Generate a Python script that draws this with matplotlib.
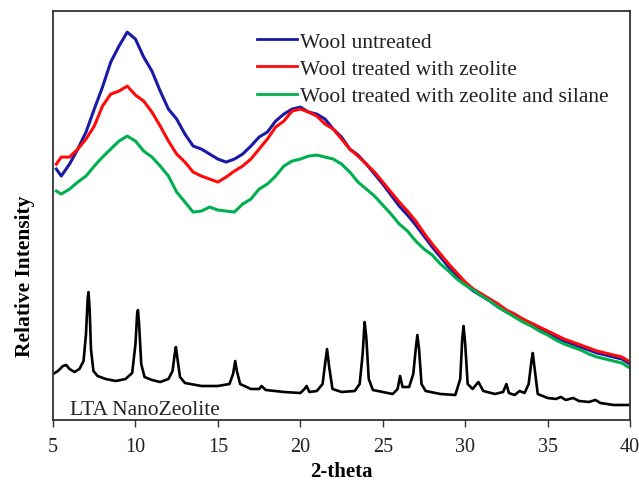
import matplotlib
matplotlib.use("Agg")
import matplotlib.pyplot as plt
import numpy as np

plt.rcParams['font.family'] = ['Liberation Serif', 'DejaVu Serif']

# 2-theta grid for the wool patterns
two_theta = [5.2] + [5.5 + 0.5 * i for i in range(70)]

wool_untreated = [251, 244, 256, 271, 288, 311, 333, 358, 374, 388, 381, 363, 349, 329, 311, 301, 286, 274,
                  271, 266, 261, 258, 261, 266, 274, 283, 288, 299, 306, 311, 313, 308, 306, 301, 291, 283,
                  271, 265, 256, 246, 236, 225, 214, 205, 195, 184, 173, 163, 153, 144, 136, 129, 124, 119,
                  113, 108, 104, 99, 95, 91, 87, 83, 79, 76, 73, 70, 67, 65, 63, 61, 56]

wool_zeolite = [256, 263, 263, 271, 281, 294, 314, 326, 329, 334, 325, 319, 308, 294, 279, 266, 258, 248,
                244, 241, 238, 243, 249, 254, 261, 271, 281, 293, 299, 309, 311, 308, 304, 296, 291, 281,
                271, 264, 256, 248, 238, 228, 218, 209, 199, 187, 176, 166, 156, 147, 138, 131, 126, 121,
                116, 110, 106, 101, 97, 93, 89, 85, 81, 78, 75, 72, 69, 67, 65, 63, 58]

wool_zeolite_silane = [229, 226, 231, 238, 244, 254, 263, 271, 279, 284, 279, 269, 263, 254, 244, 228, 218, 208,
                       209, 213, 210, 209, 208, 216, 221, 231, 236, 244, 254, 259, 261, 264, 265, 263, 261, 256,
                       248, 238, 231, 224, 215, 206, 196, 189, 179, 171, 165, 156, 149, 141, 135, 130, 124, 119,
                       113, 108, 103, 98, 94, 89, 85, 80, 76, 73, 70, 66, 63, 61, 59, 57, 52]

lta_theta = [5.0, 5.3, 5.6, 5.8, 6.0, 6.3, 6.6, 6.85, 7.0, 7.1, 7.15, 7.22, 7.3, 7.45, 7.7, 8.2, 8.8, 9.4,
             9.8, 10.0, 10.1, 10.15, 10.22, 10.35, 10.55, 11.0, 11.5, 12.0, 12.25, 12.38, 12.45, 12.55, 12.7,
             13.0, 14.0, 15.0, 15.7, 15.92, 16.05, 16.15, 16.35, 17.0, 17.5, 17.65, 17.9, 19.0, 20.0, 20.25,
             20.38, 20.55, 21.0, 21.35, 21.5, 21.62, 21.75, 21.95, 22.5, 23.3, 23.6, 23.78, 23.9, 24.0, 24.15,
             24.4, 25.0, 25.6, 25.9, 26.05, 26.2, 26.6, 26.85, 27.0, 27.1, 27.2, 27.35, 27.6, 28.5, 29.4, 29.7,
             29.82, 29.9, 30.0, 30.15, 30.45, 30.8, 31.1, 31.8, 32.3, 32.5, 32.65, 33.0, 33.3, 33.6, 33.85,
             34.02, 34.1, 34.2, 34.4, 35.0, 35.5, 35.8, 36.1, 36.55, 36.9, 37.5, 37.9, 38.2, 39.0, 39.5, 40.0]
lta_intensity = [46, 49, 54, 55, 51, 48, 51, 59, 86, 121, 128, 111, 71, 49, 44, 41, 39, 41,
                 47, 76, 106, 110, 96, 56, 43, 40, 38, 41, 49, 66, 73, 61, 43,
                 37, 34, 34, 36, 46, 59, 49, 36, 31, 31, 34, 30, 28, 27, 31,
                 34, 28, 29, 36, 56, 71, 53, 31, 28, 29, 36, 66, 98, 83, 41,
                 30, 28, 26, 31, 44, 33, 33, 46, 71, 85, 71, 36, 29, 26, 25, 41,
                 81, 94, 76, 36, 31, 38, 29, 26, 28, 36, 27, 25, 29, 27, 36,
                 59, 67, 53, 26, 22, 21, 23, 20, 22, 19, 18, 20, 17, 15, 15, 15]

labels = ["Wool untreated", "Wool treated with zeolite", "Wool treated with zeolite and silane"]
colors = ["#1a1aa8", "#ff0a0a", "#00b04f"]
x_ticks = [5, 10, 15, 20, 25, 30, 35, 40]

fig = plt.figure(figsize=(6.39, 4.85), dpi=100)
ax = fig.add_axes([0.083, 0.132, 0.903, 0.843])

for ys, lab, c in zip([wool_untreated, wool_zeolite, wool_zeolite_silane], labels, colors):
    ax.plot(two_theta, ys, color=c, lw=2.2, label=lab)
ax.plot(lta_theta, lta_intensity, color="black", lw=1.9)

ax.set_xlim(5, 40)
ax.set_ylim(0, 409)
ax.set_xticks(x_ticks)
ax.set_yticks([])
ax.tick_params(axis='x', direction='out', length=5, width=1, pad=7, labelsize=14.5,
               colors='#333333', labelcolor='#222222')
for s in ax.spines.values():
    s.set_color('#333333')
    s.set_linewidth(1.3)

ax.set_xlabel("2-theta", fontsize=15, fontweight='bold', labelpad=4)
ax.set_ylabel("Relative Intensity", fontsize=15.5, fontweight='bold')
ax.yaxis.set_label_coords(-0.032, 0.355)

ax.text(6.0, 10, "LTA NanoZeolite", fontsize=15.5, ha='left', va='center', color='#222222')

leg = ax.legend(loc='upper left', bbox_to_anchor=(0.3536, 0.950), frameon=False, fontsize=15.5,
                handlelength=1.86, handletextpad=0.15, labelspacing=0.34, borderaxespad=0, borderpad=0)
for h in leg.get_lines():
    h.set_linewidth(2.0)
for t in leg.get_texts():
    t.set_color('#222222')

fig.savefig("out.png", dpi=100)
